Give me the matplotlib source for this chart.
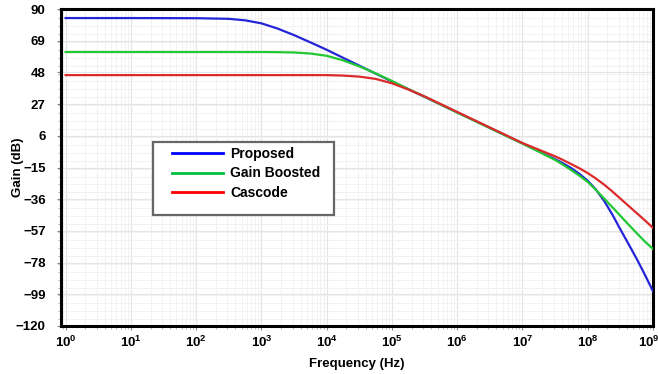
import numpy as np
import matplotlib
matplotlib.use("Agg")
import matplotlib.pyplot as plt
import matplotlib.transforms as mtransforms
from matplotlib.patches import Rectangle
from matplotlib.lines import Line2D
from matplotlib.ticker import LogLocator, MultipleLocator, NullFormatter

plt.rcParams['font.family'] = ['Liberation Sans', 'DejaVu Sans']
plt.rcParams['font.weight'] = 'bold'

# log10 of frequency (Hz) where the curves were read
log_freq = [0, 1, 2, 2.5, 2.75, 3, 3.25, 3.5, 3.75, 4, 4.25, 4.5, 4.75,
            5, 5.25, 5.5, 6, 7, 7.25, 7.5, 7.625, 7.75, 7.875, 8, 8.125,
            8.25, 8.375, 8.5, 8.625, 8.75, 8.875, 9]

proposed = [84, 84, 83.9, 83.5, 82.5, 80.5, 77, 72.7, 67.9, 63, 57.7, 52.5, 47.2,
            42, 36.9, 31.8, 21.5, 1, -4.3, -9.5, -12.3, -15.5, -19.3, -23.8, -29.6,
            -37, -46, -56, -65.7, -75.5, -86, -97]
gain_boosted = [61.5, 61.5, 61.5, 61.5, 61.5, 61.5, 61.4, 61.2, 60.5, 59, 56, 52, 47.4,
                42.3, 37, 31.9, 21.4, 0.8, -4.5, -10, -13.3, -16.8, -20.5, -24.6, -29.8,
                -35.5, -41.2, -47, -52.8, -58.5, -64, -69]
cascode = [46.2, 46.2, 46.2, 46.2, 46.2, 46.2, 46.2, 46.2, 46.2, 46.2, 45.9, 45.2, 43.7,
           40.8, 36.7, 32.1, 21.8, 1.2, -3.2, -7.6, -10.1, -12.8, -15.6, -18.7, -22.3,
           -26.3, -30.8, -35.6, -40.4, -45.2, -50, -55]

names = ["Proposed", "Gain Boosted", "Cascode"]
line_colors = ["#2424d8", "#22c832", "#dc2a2a"]
legend_colors = ["#0000ff", "#00c040", "#ff0000"]

freq = 10.0 ** np.array(log_freq)

fig = plt.figure(figsize=(6.58, 3.74), dpi=100)
ax = fig.add_axes([61 / 658, 48 / 374, 592 / 658, 317 / 374])

for vals, color in zip([proposed, gain_boosted, cascode], line_colors):
    ax.plot(freq, vals, color=color, linewidth=1.6, zorder=3)

ax.set_xscale('log')
ax.set_xlim(0.85, 1.0e9)
ax.set_ylim(-120, 90)
ax.set_xticks([10.0 ** k for k in range(10)])
ax.xaxis.set_minor_locator(LogLocator(base=10, subs=np.arange(2, 10), numticks=20))
ax.xaxis.set_minor_formatter(NullFormatter())
ax.set_yticks(np.arange(-120, 91, 21))
ax.yaxis.set_minor_locator(MultipleLocator(5.25))

ax.grid(True, which='major', color='#e4e4e4', linewidth=0.8)
ax.grid(True, which='minor', color='#f0f0f0', linewidth=0.6)
ax.set_axisbelow(True)

for side in ax.spines.values():
    side.set_linewidth(2.2)
    side.set_color('black')

ax.tick_params(axis='both', which='major', labelsize=9.5, length=3, color='#888888')
ax.tick_params(axis='y', which='major', pad=8)
ax.tick_params(axis='x', which='major', pad=3)
ax.tick_params(axis='both', which='minor', length=2, color='#aaaaaa')
for lab in ax.get_xticklabels() + ax.get_yticklabels():
    lab.set_fontweight('bold')

# last tick label sits a little left in the original, partly off the edge
last = ax.get_xticklabels()[-1]
last.set_transform(last.get_transform() +
                   mtransforms.ScaledTranslation(-4 / 100, 0, fig.dpi_scale_trans))

ax.set_xlabel('Frequency (Hz)', fontsize=9.5, fontweight='bold', labelpad=6)
ax.set_ylabel('Gain (dB)', fontsize=9.5, fontweight='bold')
ax.yaxis.set_label_coords(-0.062, 0.5)

# legend box drawn separately so the padding matches the original
ax.add_patch(Rectangle((0.1554, 0.350), 0.306, 0.230, transform=ax.transAxes,
                       facecolor='white', edgecolor='#666666', linewidth=1.6, zorder=5))
handles = [Line2D([], [], color=c, linewidth=2) for c in legend_colors]
leg = ax.legend(handles, names, loc='upper left', bbox_to_anchor=(0.1875, 0.566),
                fontsize=10, frameon=False, handlelength=3.67, handletextpad=0.5,
                borderpad=0, labelspacing=0.42, borderaxespad=0)
leg.set_zorder(6)
for t in leg.get_texts():
    t.set_fontweight('bold')

fig.savefig('out.png', dpi=100)
